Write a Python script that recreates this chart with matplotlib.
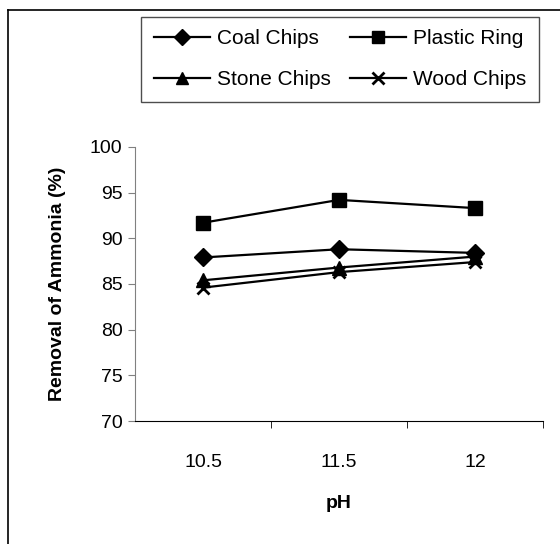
import matplotlib
matplotlib.use('Agg')
import matplotlib.pyplot as plt
from matplotlib.lines import Line2D

plt.rcParams['font.family'] = ['Liberation Sans', 'DejaVu Sans']

ph_labels = ['10.5', '11.5', '12']
coal = [87.9, 88.8, 88.4]
plastic = [91.7, 94.2, 93.3]
stone = [85.4, 86.8, 88.0]
wood = [84.6, 86.3, 87.4]

fig = plt.figure(figsize=(5.6, 5.44), dpi=100)
ax = fig.add_axes([0.241, 0.226, 0.729, 0.504])

x = range(len(ph_labels))
h_coal, = ax.plot(x, coal, color='black', lw=1.6, marker='D', ms=9, label='Coal Chips')
h_plastic, = ax.plot(x, plastic, color='black', lw=1.6, marker='s', ms=10, label='Plastic Ring')
h_stone, = ax.plot(x, stone, color='black', lw=1.6, marker='^', ms=10, label='Stone Chips')
h_wood, = ax.plot(x, wood, color='black', lw=1.6, marker='x', ms=9, mew=2, label='Wood Chips')

ax.set_xlim(-0.5, 2.5)
ax.set_ylim(70, 100)
ax.set_yticks(range(70, 101, 5))
ax.set_xticks(list(x))
ax.set_xticklabels(ph_labels)
ax.set_xticks([0.5, 1.5, 2.5], minor=True)
ax.tick_params(axis='x', which='major', length=0, pad=24, labelsize=14)
ax.tick_params(axis='x', which='minor', length=5, direction='out', color='black')
ax.tick_params(axis='y', length=5, direction='out', color='#808080', labelsize=14, pad=4)

for s in ['top', 'right']:
    ax.spines[s].set_visible(False)
ax.spines['left'].set_color('#808080')
ax.spines['bottom'].set_color('black')

ax.set_ylabel('Removal of Ammonia (%)', fontsize=14, fontweight='bold', labelpad=17)
ax.set_xlabel('pH', fontsize=14, fontweight='bold', labelpad=17)

# row-wise order like the original: Coal, Plastic / Stone, Wood
handles = [h_coal, h_stone, h_plastic, h_wood]
leg = fig.legend(handles=handles, labels=[h.get_label() for h in handles],
                 loc='upper left', bbox_to_anchor=(141 / 560, 1 - 17 / 544), ncol=2,
                 fontsize=15, frameon=True, fancybox=False, handlelength=2.7,
                 columnspacing=0.9, handletextpad=0.35, borderpad=0.6, labelspacing=1.05,
                 borderaxespad=0, markerscale=0.9)
leg.get_frame().set_edgecolor('#202020')
leg.get_frame().set_linewidth(1)

# outer border (left and top edges)
fig.add_artist(Line2D([8 / 560, 8 / 560], [0, 1 - 10 / 544], color='black', lw=1.2,
                      transform=fig.transFigure))
fig.add_artist(Line2D([8 / 560, 1], [1 - 10 / 544, 1 - 10 / 544], color='black', lw=1.2,
                      transform=fig.transFigure))

fig.savefig('out.png', dpi=100)
